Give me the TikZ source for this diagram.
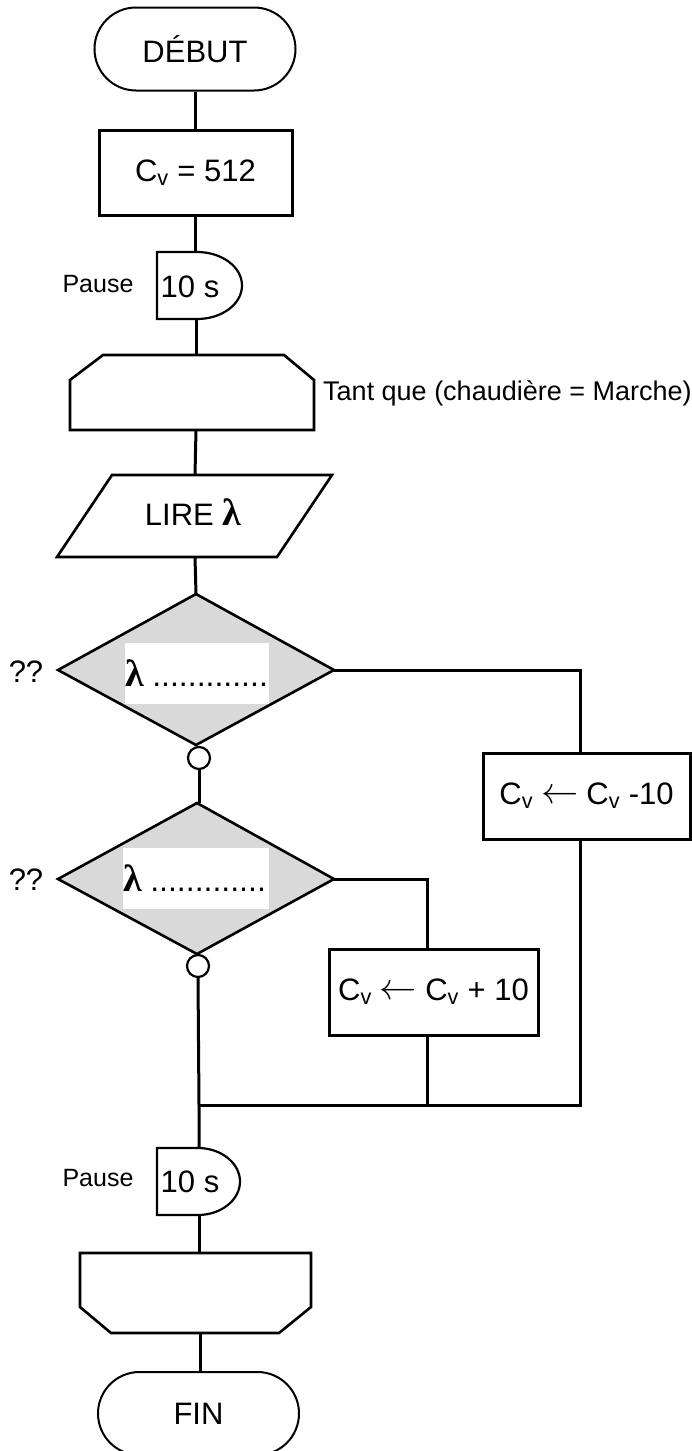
\documentclass[tikz,border=0pt]{standalone}
\usepackage{fontspec}
\usepackage{graphicx}
\setmainfont{Liberation Sans}
\newfontfamily\grk{Liberation Serif}
\usetikzlibrary{shapes.misc}
\newcommand{\lam}[1]{{\grk\bfseries\fontsize{#1}{36}\selectfont λ}}
\newcommand{\Cv}{C\textsubscript{v}}
\newcommand{\assignarrow}{\hspace{8pt}\raisebox{1pt}{\scalebox{1.5}{$\leftarrow$}}\hspace{8pt}}
\begin{document}
\begin{tikzpicture}[x=1pt,y=-1pt,
  every node/.style={font=\fontsize{31}{36}\selectfont, inner sep=0pt},
  conn/.style={line width=3pt},
  term/.style={draw, rounded rectangle, line width=2pt, minimum width=201pt, minimum height=83pt},
  procbox/.style={draw, rectangle, line width=3pt, fill=white},
  shapeline/.style={line width=2.6pt, line join=miter},
  pauseline/.style={line width=2.2pt},
  decision/.style={line width=2.6pt, fill=black!15},
  blank/.style={fill=white, minimum width=#1, minimum height=61pt},
  joint/.style={draw, circle, minimum size=22pt, line width=2.2pt, fill=white},
  small/.style={font=\fontsize{25}{30}\selectfont},
  mid/.style={font=\fontsize{27}{32}\selectfont}
]
\useasboundingbox (0,0) rectangle (692,1451);

% ---------- start ----------
\node[term] (debut) at (195,49) {DÉBUT};
\node[procbox, minimum width=193pt, minimum height=85pt] (init) at (195.5,172.5) {\Cv{} = 512};

% ---------- pause 1 ----------
\draw[pauseline] (197,252) -- (157,252) -- (157,319) -- (197,319)
   .. controls (222,319) and (242,304) .. (242,285.5)
   .. controls (242,267) and (222,252) .. (197,252) -- cycle;
\coordinate (p1top) at (196,252);
\coordinate (p1bot) at (196,319);
\node (p1txt) at (190,287) {10 s};
\node[small] (p1lab) at (98,284) {Pause};

% ---------- while loop start ----------
\draw[shapeline] (103,355) -- (284,355) -- (314,380) -- (314,430) -- (70,430) -- (70,380) -- cycle;
\coordinate (wstop) at (196,355);
\coordinate (wsbot) at (196,430);
\node[mid, anchor=west] (wslab) at (323,393) {Tant que (chaudière = Marche)};

% ---------- read ----------
\draw[shapeline] (112,475) -- (332,475) -- (277,557) -- (57,557) -- cycle;
\coordinate (lirtop) at (195,475);
\coordinate (lirbot) at (195,557);
\node (lirtxt) at (193,512) {LIRE \lam{38}};

% ---------- decision 1 ----------
\draw[decision] (196,594) -- (334,670) -- (196,745) -- (58,670) -- cycle;
\coordinate (d1top) at (196,594);
\coordinate (d1right) at (334,670);
\node[blank=144pt] (q1) at (197,673.5) {\makebox[144pt][l]{\lam{38} {\fontsize{32}{36}\selectfont .............}}};
\node (qq1) at (26,672) {??};
\node[joint] (c1) at (199,758) {};

% ---------- decision 2 ----------
\draw[decision] (197,803) -- (334,879) -- (197,954) -- (58,879) -- cycle;
\coordinate (d2top) at (197,803);
\coordinate (d2right) at (334,879);
\node[blank=146pt] (q2) at (196,878) {\makebox[146pt][l]{\lam{38} {\fontsize{32}{36}\selectfont .............}}};
\node (qq2) at (26,880) {??};
\node[joint] (c2) at (198,966) {};

% ---------- actions ----------
\node[procbox, minimum width=207pt, minimum height=86pt] (dec) at (586.5,796) {\Cv\assignarrow\Cv{} -10};
\node[procbox, minimum width=209pt, minimum height=86pt] (inc) at (433.5,992) {\Cv\assignarrow\Cv{} + 10};
\coordinate (decin) at (580,753);
\coordinate (decout) at (580,839);
\coordinate (incin) at (427,949);
\coordinate (incout) at (427,1035);
\coordinate (J) at (199,1105);
\coordinate (Jinc) at (427,1105);
\coordinate (Jdec) at (580,1105);

% ---------- pause 2 ----------
\draw[pauseline] (198,1148) -- (157,1148) -- (157,1215) -- (198,1215)
   .. controls (221,1215) and (240,1200) .. (240,1181.5)
   .. controls (240,1163) and (221,1148) .. (198,1148) -- cycle;
\coordinate (p2top) at (199,1148);
\coordinate (p2bot) at (199,1215);
\node (p2txt) at (190,1182) {10 s};
\node[small] (p2lab) at (98,1178) {Pause};

% ---------- loop end ----------
\draw[shapeline] (80,1253) -- (311,1253) -- (311,1307) -- (279,1333) -- (111,1333) -- (80,1307) -- cycle;
\coordinate (letop) at (199,1253);
\coordinate (lebot) at (200,1333);

% ---------- end ----------
\node[term] (fin) at (198.5,1413.5) {FIN};

% ---------- connectors ----------
\draw[conn] (debut.south) -- (debut.south |- init.north);
\draw[conn] (init.south) -- (init.south |- p1top);
\draw[conn] (p1bot) -- (wstop);
\draw[conn] (wsbot) -- (lirtop);
\draw[conn] (lirbot) -- (d1top);
\draw[conn] (c1.south) -- (c1.south |- d2top);
\draw[conn] (d1right) -| (decin);
\draw[conn] (d2right) -| (incin);
\draw[conn] (decout) -- (Jdec) -- (J);
\draw[conn] (incout) -- (Jinc);
\draw[conn] (c2.south) -- (J) -- (p2top);
\draw[conn] (p2bot) -- (letop);
\draw[conn] (lebot) -- (lebot |- fin.north);
\end{tikzpicture}
\end{document}
